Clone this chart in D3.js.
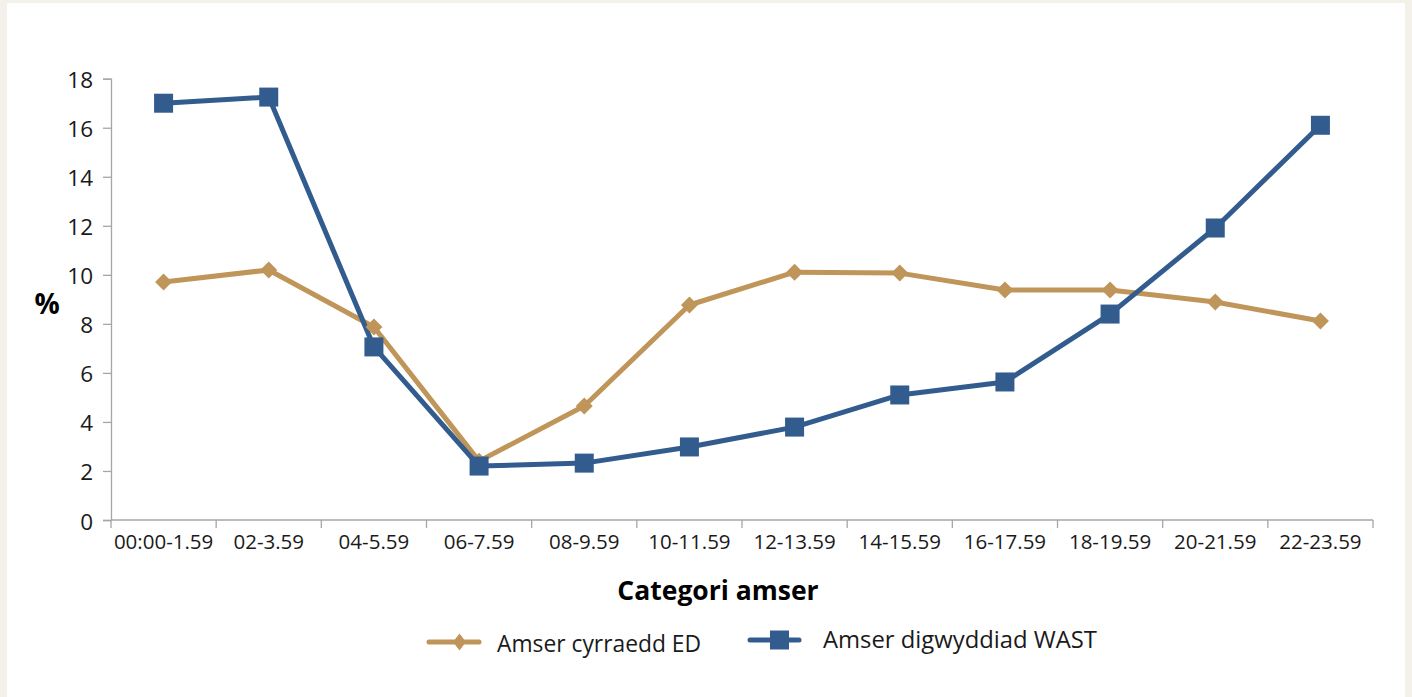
<!DOCTYPE html>
<html><head><meta charset="utf-8">
<script src="https://cdn.jsdelivr.net/npm/d3@7"></script>
<style>html,body{margin:0;padding:0;background:#f4f0ea;}svg{display:block;}</style>
</head><body>
<svg id="c" width="1412" height="697"></svg>
<script>
const categories = ["00:00-1.59","02-3.59","04-5.59","06-7.59","08-9.59","10-11.59","12-13.59","14-15.59","16-17.59","18-19.59","20-21.59","22-23.59"];
const edValues = [9.71,10.2,7.87,2.4,4.65,8.77,10.11,10.07,9.38,9.38,8.89,8.12];
const wastValues = [17.0,17.25,7.06,2.2,2.32,2.98,3.79,5.1,5.63,8.4,11.91,16.1];
const yTicks = [0,2,4,6,8,10,12,14,16,18];
const seriesNames = ["Amser cyrraedd ED","Amser digwyddiad WAST"];
const xTitle = "Categori amser";
const yTitle = "%";

const FONT = "'Open Sans', 'Noto Sans', sans-serif";
const cED = "#c0955a", cWAST = "#335c8e", axisC = "#a6a6a6", txt = "#1a1a1a";

const svg = d3.select("#c");
svg.append("rect").attr("x",7).attr("y",3).attr("width",1398).attr("height",700).attr("fill","#ffffff");

const x = d3.scaleBand().domain(categories).range([111,1373]).padding(0);
const y = d3.scaleLinear().domain([0,18]).range([520,78.7]);

// Y axis
const yAx = svg.append("g").attr("transform","translate(111,0)")
  .call(d3.axisLeft(y).tickValues(yTicks).tickSize(8).tickPadding(10).tickFormat(d3.format("d")));
yAx.select(".domain").attr("stroke",axisC).attr("stroke-width",1.3);
yAx.selectAll(".tick line").attr("stroke",axisC).attr("stroke-width",1.3);
yAx.selectAll(".tick text").attr("font-family",FONT).attr("font-size",22.5).attr("fill",txt).attr("dy","0.4em");

// X axis
const xAx = svg.append("g").attr("transform","translate(0,520)")
  .call(d3.axisBottom(x).tickSize(0).tickPadding(14));
xAx.select(".domain").remove();
xAx.selectAll(".tick text").attr("font-family",FONT).attr("font-size",20.5).attr("fill",txt).attr("dy","0.71em");
xAx.append("line").attr("x1",x.range()[0]).attr("x2",x.range()[1]).attr("y1",0).attr("y2",0)
  .attr("stroke",axisC).attr("stroke-width",1.5);
const edges = categories.map(c=>x(c)).concat([x.range()[1]]);
xAx.selectAll("line.edge").data(edges).enter().append("line").attr("class","edge")
  .attr("x1",d=>d).attr("x2",d=>d).attr("y1",0).attr("y2",8).attr("stroke",axisC).attr("stroke-width",1.3);

// Titles
svg.append("text").attr("x",718).attr("y",600).attr("text-anchor","middle")
  .attr("font-family",FONT).attr("font-weight","bold").attr("font-size",26.5).attr("fill","#000").text(xTitle);
svg.append("text").attr("x",47).attr("y",314).attr("text-anchor","middle")
  .attr("font-family",FONT).attr("font-weight","bold").attr("font-size",28).attr("fill","#000").text(yTitle);

const cx = c => x(c) + x.bandwidth()/2;
const line = d3.line().x((d,i)=>cx(categories[i])).y(d=>y(d));

svg.append("path").datum(edValues).attr("d",line).attr("fill","none").attr("stroke",cED).attr("stroke-width",5).attr("stroke-linejoin","round");
svg.append("path").datum(wastValues).attr("d",line).attr("fill","none").attr("stroke",cWAST).attr("stroke-width",5).attr("stroke-linejoin","round");

const diamond = (w,h) => `M0,${-h/2}L${w/2},0L0,${h/2}L${-w/2},0Z`;
svg.selectAll("path.ed").data(edValues).enter().append("path").attr("class","ed")
  .attr("d",diamond(17,17)).attr("fill",cED)
  .attr("transform",(d,i)=>`translate(${cx(categories[i])},${y(d)})`);
svg.selectAll("rect.wast").data(wastValues).enter().append("rect").attr("class","wast")
  .attr("width",19).attr("height",19).attr("fill",cWAST)
  .attr("x",(d,i)=>cx(categories[i])-9.5).attr("y",d=>y(d)-9.5);

// Legend
const lg = svg.append("g");
lg.append("line").attr("x1",429).attr("x2",479).attr("y1",642).attr("y2",642).attr("stroke",cED).attr("stroke-width",5).attr("stroke-linecap","round");
lg.append("path").attr("d",diamond(13,17)).attr("fill",cED).attr("transform","translate(459.5,642)");
lg.append("text").attr("x",497).attr("y",652).attr("font-family",FONT).attr("font-size",24).attr("fill",txt)
  .attr("textLength",204).attr("lengthAdjust","spacingAndGlyphs").text(seriesNames[0]);
lg.append("line").attr("x1",750).attr("x2",799).attr("y1",640).attr("y2",640).attr("stroke",cWAST).attr("stroke-width",5).attr("stroke-linecap","round");
lg.append("rect").attr("x",770).attr("y",630.5).attr("width",19).attr("height",19).attr("fill",cWAST);
lg.append("text").attr("x",823).attr("y",647.5).attr("font-family",FONT).attr("font-size",24.5).attr("fill",txt)
  .attr("textLength",274).attr("lengthAdjust","spacingAndGlyphs").text(seriesNames[1]);
</script>
</body></html>
